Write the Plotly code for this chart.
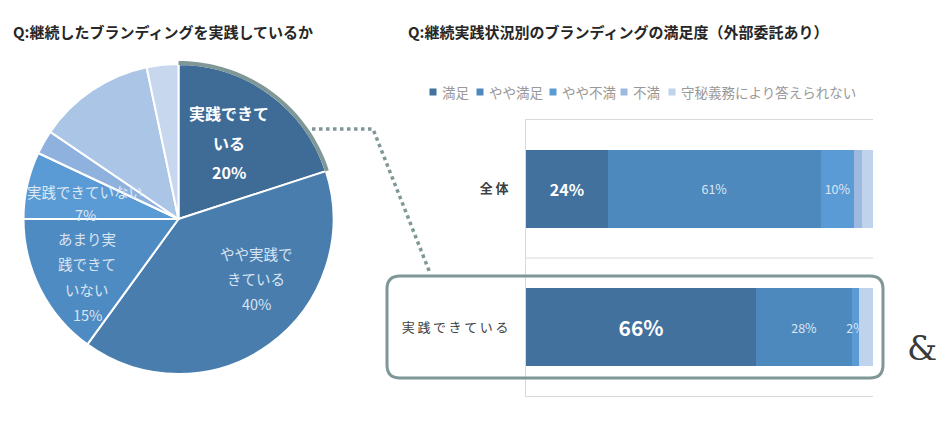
import math
import plotly.graph_objects as go

# ---------------- data ----------------
pie_labels = ["実践できている", "やや実践できている", "あまり実践できていない",
              "実践できていない", "全く実践できていない", "わからない", "その他"]
pie_values = [20, 40, 15, 7, 2.5, 12.2, 3.3]
pie_colors = ["#3F6B97", "#487DAE", "#4F8BC3", "#5A9AD5", "#8FB1DE", "#ABC5E7", "#C6D7EE"]
pie_label_lines = [["実践できて", "いる"], ["やや実践で", "きている"],
                   ["あまり実", "践できて", "いない"], ["実践できていない"]]

bar_categories = ["全体", "実践できている"]
series_names = ["満足", "やや満足", "やや不満", "不満", "守秘義務により答えられない"]
satisfied = [23.6, 66.3]
somewhat_satisfied = [61.4, 27.7]
somewhat_dissatisfied = [9.6, 2.0]
dissatisfied = [2.3, 0.0]
confidential = [3.1, 4.0]
series_colors = ["#41719C", "#4E89BD", "#5B9BD5", "#9DB9E0", "#BFD3EC"]

title_left = "Q:継続したブランディングを実践しているか"
title_right = "Q:継続実践状況別のブランディングの満足度（外部委託あり）"

# ---------------- layout helpers ----------------
W, H = 940, 437
FONT = "Noto Sans CJK JP"
ACCENT = "#7F9897"


def px(x):
    return x / W


def py(y):
    return 1 - y / H


fig = go.Figure()

# ---------------- pie ----------------
PCX, PCY, PR = 178.5, 219, 155
fig.add_trace(go.Pie(
    labels=pie_labels, values=pie_values, sort=False, direction="clockwise",
    rotation=0, textinfo="none", hoverinfo="skip", showlegend=False,
    marker=dict(colors=pie_colors, line=dict(color="white", width=2)),
    domain=dict(x=[px(PCX - PR), px(PCX + PR)], y=[py(PCY + PR), py(PCY - PR)]),
))

# highlight arc on first slice
total = sum(pie_values)
end_ang = pie_values[0] / total * 2 * math.pi
pts = []
n = 40
for i in range(n + 1):
    a = end_ang * i / n
    r = PR + 1
    pts.append((px(PCX + r * math.sin(a)), py(PCY - r * math.cos(a))))
arc_path = "M " + " L ".join(f"{x:.5f},{y:.5f}" for x, y in pts)
shapes = [dict(type="path", xref="paper", yref="paper", path=arc_path,
               line=dict(color=ACCENT, width=4), layer="above")]

# category boundary lines of the bar chart (axis coordinates)
for b in [-0.5, 0.5, 1.5]:
    shapes.append(dict(type="line", xref="x", yref="y", x0=0, x1=100, y0=b, y1=b,
                       line=dict(color="#D9D9D9", width=1), layer="below"))

# dotted connector
conn = [(312, 129), (373, 129), (430, 273)]
shapes.append(dict(type="path", xref="paper", yref="paper",
                   path="M " + " L ".join(f"{px(x):.5f},{py(y):.5f}" for x, y in conn),
                   line=dict(color=ACCENT, width=3.5, dash="dot"), layer="above"))

# rounded rectangle
x0, y0, x1, y1, rr = 387, 276, 883, 378, 13
rp = [("M", (x0 + rr, y0)), ("L", (x1 - rr, y0)), ("Q", (x1, y0), (x1, y0 + rr)),
      ("L", (x1, y1 - rr)), ("Q", (x1, y1), (x1 - rr, y1)), ("L", (x0 + rr, y1)),
      ("Q", (x0, y1), (x0, y1 - rr)), ("L", (x0, y0 + rr)), ("Q", (x0, y0), (x0 + rr, y0))]
path = ""
for seg in rp:
    path += seg[0] + " " + " ".join(f"{px(p[0]):.5f},{py(p[1]):.5f}" for p in seg[1:]) + " "
path += "Z"
shapes.append(dict(type="path", xref="paper", yref="paper", path=path,
                   line=dict(color=ACCENT, width=3), fillcolor="rgba(0,0,0,0)", layer="above"))

# ---------------- bars ----------------
series_values = [satisfied, somewhat_satisfied, somewhat_dissatisfied, dissatisfied, confidential]
labelled = [True, True, True, False, False]
for name, vals, col, lab in zip(series_names, series_values, series_colors, labelled):
    if name == "満足":
        txt = [f"<b>{round(v)}%</b>" for v in vals]
        tf = dict(family=FONT, size=[16, 21], color="white")
    elif lab:
        txt = [f"{round(v)}%" for v in vals]
        tf = dict(family=FONT, size=12.5, color="#DCE6F2")
    else:
        txt = ["" for _ in vals]
        tf = dict(family=FONT, size=12, color="#DCE6F2")
    fig.add_trace(go.Bar(
        y=bar_categories, x=vals, name=name, orientation="h",
        marker=dict(color=col, line=dict(width=0)),
        text=txt, textposition="inside", insidetextanchor="middle",
        textangle=0, constraintext="none", textfont=tf,
        hoverinfo="skip", showlegend=False, cliponaxis=False,
    ))

fig.update_layout(
    barmode="stack", bargap=0.44,
    width=W, height=H, margin=dict(l=0, r=0, t=0, b=0),
    paper_bgcolor="white", plot_bgcolor="white",
    showlegend=False,
    xaxis=dict(domain=[px(526), px(873)], range=[0, 100], visible=False, fixedrange=True),
    yaxis=dict(domain=[py(397), py(119)], type="category",
               categoryorder="array", categoryarray=bar_categories,
               autorange="reversed", showgrid=False,
               showline=True, linecolor="#D9D9D9", linewidth=1,
               ticks="", ticklabelstandoff=14,
               tickvals=bar_categories,
               ticktext=["<b>全\u2009体</b>", "実\u2009践\u2009で\u2009き\u2009て\u2009い\u2009る"],
               tickfont=dict(family=FONT, size=13, color="#404040")),
    shapes=shapes,
)

# ---------------- annotations ----------------
ann = []
ann.append(dict(text=f"<b>{title_left}</b>", x=px(11), y=py(32), xanchor="left", yanchor="middle",
                font=dict(family=FONT, size=15, color="#262626")))
ann.append(dict(text=f"<b>{title_right}</b>", x=px(406), y=py(32), xanchor="left", yanchor="middle",
                font=dict(family=FONT, size=15, color="#262626")))

# pie labels
label_pos = [(229, 113, 29.5, 16, True, "white"),
             (256, 253, 25, 14.5, False, "#D9E4F1"),
             (87, 238, 25.5, 14.5, False, "#D9E4F1"),
             (85, 191, 23, 14.5, False, "#DDE8F4")]
for i, (cx, yf, dy, sz, bold, col) in enumerate(label_pos):
    lines = pie_label_lines[i] + [f"{pie_values[i]}%"]
    for k, ln in enumerate(lines):
        t = f"<b>{ln}</b>" if bold else ln
        ann.append(dict(text=t, x=px(cx), y=py(yf + k * dy), xanchor="center", yanchor="middle",
                        font=dict(family=FONT, size=sz, color=col)))

# legend (manual, compact)
leg_marker_x = [433, 480, 553, 624, 672]
for name, col, mx in zip(series_names, series_colors, leg_marker_x):
    shapes_leg = dict(type="rect", xref="paper", yref="paper",
                      x0=px(mx - 3.5), x1=px(mx + 3.5), y0=py(92 + 3.5), y1=py(92 - 3.5),
                      fillcolor=col, line=dict(width=0))
    fig.add_shape(**shapes_leg)
    ann.append(dict(text=name, x=px(mx + 7), y=py(92), xanchor="left", yanchor="middle",
                    font=dict(family=FONT, size=13.5, color="#999999")))

ann.append(dict(text="&", x=px(922), y=py(348), xanchor="center", yanchor="middle",
                font=dict(family="DejaVu Serif", size=34, color="#3A3A3A")))

for a in ann:
    a.update(xref="paper", yref="paper", showarrow=False)
fig.update_layout(annotations=ann)

fig.write_html("out.html", config={"displayModeBar": False},
               post_script="document.body.style.margin='0';document.body.style.overflow='hidden';")
